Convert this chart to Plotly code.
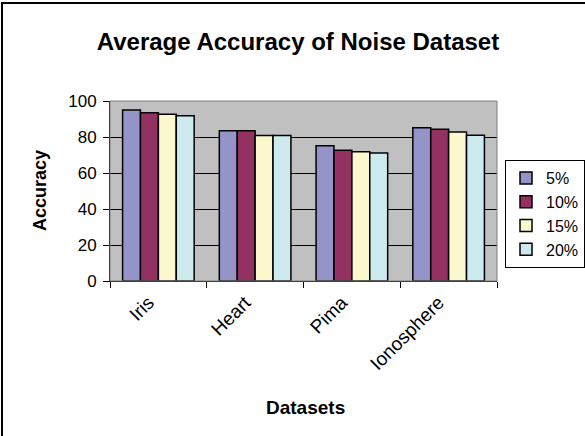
import plotly.graph_objects as go

datasets = ["Iris", "Heart", "Pima", "Ionosphere"]
noise_levels = ["5%", "10%", "15%", "20%"]
acc_5 = [95.0, 83.5, 75.2, 85.2]
acc_10 = [93.5, 83.5, 72.6, 84.3]
acc_15 = [92.6, 80.9, 71.8, 82.8]
acc_20 = [91.8, 80.9, 71.1, 81.0]
y_ticks = [0, 20, 40, 60, 80, 100]

series = [acc_5, acc_10, acc_15, acc_20]
colors = ["#9494C9", "#933262", "#FAF8CC", "#CDEBEF"]

W, H = 585, 436
L, R, T, B = 110, 497, 101, 281  # plot area in pixels


def px_x(px):
    return (px - L) / (R - L)


def px_y(py):
    return (B - py) / (B - T)


fig = go.Figure()
for name, vals, col in zip(noise_levels, series, colors):
    fig.add_trace(go.Bar(
        x=datasets, y=vals, name=name, legendgroup=name,
        marker=dict(color=col, line=dict(color="black", width=1.5)),
    ))

font = "Liberation Sans, Arial, sans-serif"

fig.update_layout(
    width=W, height=H,
    margin=dict(l=L, r=W - R, t=T, b=H - B, autoexpand=False),
    paper_bgcolor="white",
    plot_bgcolor="#C0C0C0",
    barmode="group",
    bargap=0.26,
    bargroupgap=0,
    font=dict(family=font, size=16, color="black"),
    title=dict(
        text="<b>Average Accuracy of Noise Dataset</b>",
        font=dict(size=24, family=font, color="black"),
        x=298 / W, xanchor="center", xref="container",
        y=1 - 42 / H, yanchor="middle", yref="container",
    ),
    legend=dict(
        x=px_x(505), y=px_y(160), xanchor="left", yanchor="top",
        bordercolor="black", borderwidth=1, bgcolor="white",
        font=dict(size=16, family=font),
        tracegroupgap=0,
    ),
    showlegend=True,
)

fig.update_xaxes(
    type="category",
    tickson="boundaries",
    ticks="outside", ticklen=6, tickcolor="black",
    tickangle=-45,
    ticklabelshift=-10,
    ticklabelstandoff=2,
    tickfont=dict(size=19),
    showline=True, linecolor="black", linewidth=1,
    showgrid=False,
)
fig.update_yaxes(
    range=[0, 100],
    tickvals=y_ticks,
    ticks="outside", ticklen=6, tickcolor="black",
    ticklabelstandoff=3,
    tickfont=dict(size=17),
    showline=True, linecolor="black", linewidth=1,
    showgrid=True, gridcolor="black", gridwidth=1,
    zeroline=False,
)

# axis titles
fig.add_annotation(text="<b>Datasets</b>", xref="paper", yref="paper",
                   x=px_x(305), y=px_y(407), showarrow=False,
                   font=dict(size=19, family=font), xanchor="center", yanchor="middle")
fig.add_annotation(text="<b>Accuracy</b>", xref="paper", yref="paper",
                   x=px_x(40), y=px_y(191), showarrow=False, textangle=-90,
                   font=dict(size=18, family=font), xanchor="center", yanchor="middle")

# plot-area border and outer frame
fig.add_shape(type="rect", xref="paper", yref="paper", x0=0, x1=1, y0=0, y1=1,
              line=dict(color="#808080", width=1), layer="above")
fig.add_shape(type="rect", xref="paper", yref="paper",
              x0=px_x(2), x1=px_x(620), y0=px_y(470), y1=px_y(3),
              line=dict(color="black", width=2), layer="above")

fig.write_html("out.html")
